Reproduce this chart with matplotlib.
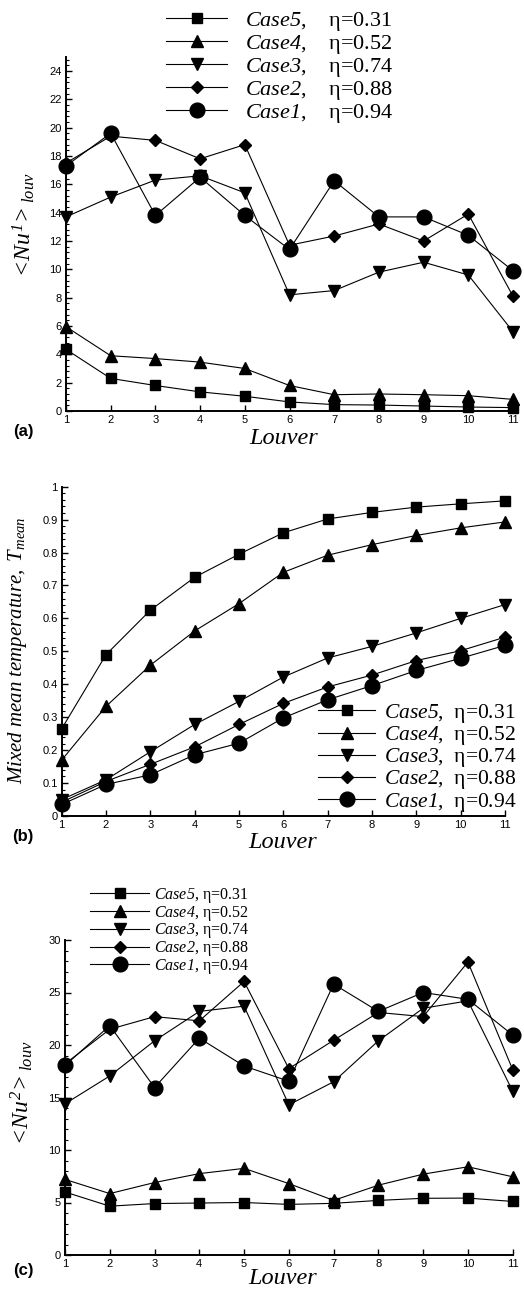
import matplotlib
matplotlib.use("Agg")
import matplotlib.pyplot as plt
from matplotlib.ticker import MultipleLocator
from matplotlib.lines import Line2D

plt.rcParams['font.family'] = ['Liberation Sans', 'DejaVu Sans']
plt.rcParams['mathtext.fontset'] = 'custom'
plt.rcParams['mathtext.rm'] = 'Liberation Serif:italic'
plt.rcParams['mathtext.it'] = 'Liberation Serif:italic'
plt.rcParams['mathtext.bf'] = 'Liberation Serif:bold'

louver = list(range(1, 12))
cases = ['Case5', 'Case4', 'Case3', 'Case2', 'Case1']
etas = ['0.31', '0.52', '0.74', '0.88', '0.94']

# Panel (a): <Nu1>_louv
nu1_case5 = [4.35, 2.3, 1.8, 1.35, 1.04, 0.64, 0.45, 0.42, 0.35, 0.28, 0.24]
nu1_case4 = [5.95, 3.9, 3.7, 3.45, 3.0, 1.8, 1.15, 1.2, 1.15, 1.08, 0.82]
nu1_case3 = [13.7, 15.1, 16.3, 16.6, 15.4, 8.2, 8.5, 9.8, 10.5, 9.6, 5.6]
nu1_case2 = [17.5, 19.4, 19.1, 17.8, 18.8, 11.7, 12.35, 13.2, 12.0, 13.9, 8.1]
nu1_case1 = [17.3, 19.6, 13.8, 16.5, 13.8, 11.4, 16.25, 13.7, 13.7, 12.4, 9.9]

# Panel (b): mixed mean temperature
tm_case5 = [0.265, 0.49, 0.625, 0.725, 0.795, 0.86, 0.902, 0.922, 0.938, 0.948, 0.957]
tm_case4 = [0.17, 0.333, 0.458, 0.562, 0.645, 0.74, 0.792, 0.824, 0.852, 0.875, 0.893]
tm_case3 = [0.05, 0.11, 0.195, 0.278, 0.348, 0.422, 0.48, 0.515, 0.556, 0.6, 0.642]
tm_case2 = [0.042, 0.105, 0.157, 0.21, 0.278, 0.342, 0.392, 0.428, 0.472, 0.502, 0.543]
tm_case1 = [0.035, 0.096, 0.125, 0.186, 0.221, 0.298, 0.353, 0.396, 0.442, 0.479, 0.518]

# Panel (c): <Nu2>_louv
nu2_case5 = [6.0, 4.65, 4.9, 4.95, 5.0, 4.82, 4.92, 5.2, 5.4, 5.42, 5.1]
nu2_case4 = [7.2, 5.85, 6.9, 7.75, 8.25, 6.8, 5.2, 6.65, 7.7, 8.4, 7.45]
nu2_case3 = [14.4, 17.05, 20.4, 23.2, 23.7, 14.3, 16.5, 20.4, 23.5, 24.2, 15.6]
nu2_case2 = [18.2, 21.5, 22.7, 22.3, 26.05, 17.75, 20.45, 23.1, 22.7, 27.9, 17.65]
nu2_case1 = [18.05, 21.85, 15.95, 20.65, 18.0, 16.55, 25.8, 23.2, 25.0, 24.35, 20.95]

markers = ['s', '^', 'v', 'D', 'o']
msizes = [7.6, 8.6, 8.6, 6.4, 10.6]

W, H = 524, 1289
fig = plt.figure(figsize=(W / 100, H / 100), dpi=100)


def px_axes(l, r, b, t):
    return fig.add_axes([l / W, 1 - b / H, (r - l) / W, (b - t) / H])


def style_axes(ax, ymaj, ymin):
    for s in ['top', 'right']:
        ax.spines[s].set_visible(False)
    for s in ['left', 'bottom']:
        ax.spines[s].set_linewidth(1.4)
    ax.set_xlim(1, 11)
    ax.xaxis.set_major_locator(MultipleLocator(1))
    ax.yaxis.set_major_locator(MultipleLocator(ymaj))
    ax.yaxis.set_minor_locator(MultipleLocator(ymin))
    ax.tick_params(axis='both', which='major', direction='in', length=4.5,
                   width=1.0, labelsize=8, pad=3)
    ax.tick_params(axis='y', which='minor', direction='in', length=2.4, width=0.8)
    ax.tick_params(axis='x', which='minor', length=0)
    ax.patch.set_visible(False)


def plot_series(ax, series):
    for y, m, ms in zip(series, markers, msizes):
        ax.plot(louver, y, color='black', lw=0.8, marker=m, ms=ms,
                mfc='black', mec='black', clip_on=False, zorder=3)


def legend_handles():
    return [Line2D([], [], color='black', lw=0.8, marker=m, ms=ms, mfc='black', mec='black')
            for m, ms in zip(markers, msizes)]


# ---- (a)
axa = px_axes(66, 513, 411, 56.8)
style_axes(axa, 2, 0.4)
axa.set_ylim(0, 25)
plot_series(axa, [nu1_case5, nu1_case4, nu1_case3, nu1_case2, nu1_case1])
labels_a = [r'$%s$,    η=%s' % (c, e) for c, e in zip(cases, etas)]
fig.legend(legend_handles(), labels_a, loc='upper left',
           bbox_to_anchor=(166 / W, 1 - 10 / H), frameon=False,
           prop={'family': 'Liberation Serif', 'size': 16},
           handlelength=2.75, handletextpad=0.8, labelspacing=0.0, borderpad=0,
           borderaxespad=0)
fig.text(24 / W, 1 - 226 / H, r'${<}\!Nu^{1}\!{>}_{louv}$', rotation=90,
         ha='center', va='center', fontsize=17)
fig.text(284 / W, 1 - 438 / H, 'Louver', family='Liberation Serif', style='italic',
         fontsize=17.5, ha='center', va='center')
fig.text(23 / W, 1 - 432 / H, '(a)', fontsize=12, fontweight='bold', ha='center', va='center')

# ---- (b)
axb = px_axes(61.7, 505, 816, 486.7)
style_axes(axb, 0.1, 0.02)
axb.set_ylim(0, 1)
axb.set_yticks([0, 0.1, 0.2, 0.3, 0.4, 0.5, 0.6, 0.7, 0.8, 0.9, 1.0])
axb.set_yticklabels(['0', '0.1', '0.2', '0.3', '0.4', '0.5', '0.6', '0.7', '0.8', '0.9', '1'])
plot_series(axb, [tm_case5, tm_case4, tm_case3, tm_case2, tm_case1])
labels_b = [r'$%s$,  η=%s' % (c, e) for c, e in zip(cases, etas)]
fig.legend(legend_handles(), labels_b, loc='upper left',
           bbox_to_anchor=(318 / W, 1 - 702 / H), frameon=False,
           prop={'family': 'Liberation Serif', 'size': 15.5},
           handlelength=2.65, handletextpad=0.4, labelspacing=-0.04, borderpad=0,
           borderaxespad=0)
fig.text(18 / W, 1 - 650 / H, r'$Mixed\ mean\ temperature,\ T_{mean}$', rotation=90,
         ha='center', va='center', fontsize=15)
fig.text(283 / W, 1 - 843 / H, 'Louver', family='Liberation Serif', style='italic',
         fontsize=17.5, ha='center', va='center')
fig.text(23 / W, 1 - 837 / H, '(b)', fontsize=12, fontweight='bold', ha='center', va='center')

# ---- (c)
axc = px_axes(65, 512.7, 1255, 940)
style_axes(axc, 5, 1)
axc.set_ylim(0, 30)
plot_series(axc, [nu2_case5, nu2_case4, nu2_case3, nu2_case2, nu2_case1])
labels_c = [r'$%s$, η=%s' % (c, e) for c, e in zip(cases, etas)]
fig.legend(legend_handles(), labels_c, loc='upper left',
           bbox_to_anchor=(90 / W, 1 - 886 / H), frameon=False,
           prop={'family': 'Liberation Serif', 'size': 11.5},
           handlelength=3.7, handletextpad=0.3, labelspacing=-0.08, borderpad=0,
           borderaxespad=0)
fig.text(22 / W, 1 - 1094 / H, r'${<}\!Nu^{2}\!{>}_{louv}$', rotation=90,
         ha='center', va='center', fontsize=17)
fig.text(283 / W, 1 - 1279 / H, 'Louver', family='Liberation Serif', style='italic',
         fontsize=17.5, ha='center', va='center')
fig.text(23 / W, 1 - 1270 / H, '(c)', fontsize=12, fontweight='bold', ha='center', va='center')

fig.savefig('out.png', dpi=100)
